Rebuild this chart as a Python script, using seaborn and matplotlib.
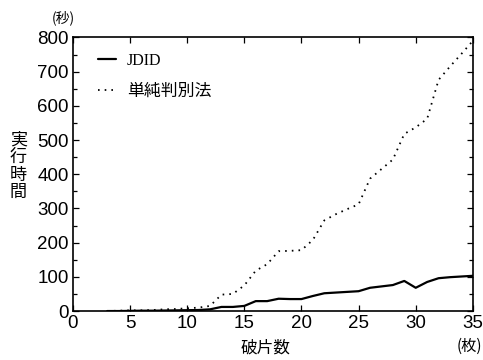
import numpy as np
import pandas as pd
import matplotlib
matplotlib.use("Agg")
import matplotlib.pyplot as plt
from matplotlib.ticker import MultipleLocator
import seaborn as sns

# --- data ---
pieces = list(range(3, 36))
jdid = [0, 0, 0.5, 1, 1, 1.5, 2, 2.5, 3, 5, 12, 12, 15, 29, 29, 36, 35, 35,
        44, 52, 54, 56, 58, 68, 72, 76, 88, 68, 85, 96, 99, 101, 103]
naive = [0, 1, 2, 2, 3, 5, 6, 8, 10, 15, 48, 50, 75, 118, 137, 175, 176, 178,
         208, 265, 283, 298, 312, 387, 415, 443, 518, 537, 562, 676, 715, 752, 790]

df = pd.DataFrame({"pieces": pieces, "JDID": jdid, "naive": naive})

sns.set_style("ticks")
plt.rcParams["font.family"] = ["Liberation Sans", "Noto Sans CJK JP", "DejaVu Sans"]
plt.rcParams["text.color"] = "black"
plt.rcParams["xtick.labelcolor"] = "black"
plt.rcParams["ytick.labelcolor"] = "black"

fig = plt.figure(figsize=(4.83, 3.6), dpi=100)
ax = fig.add_axes([0.151, 0.136, 0.828, 0.760])

sns.lineplot(data=df, x="pieces", y="JDID", ax=ax, color="black",
             linewidth=1.6, label="JDID")
sns.lineplot(data=df, x="pieces", y="naive", ax=ax, color="black",
             linewidth=1.3, linestyle=(0, (0.9, 2.8)), label="単純判別法")

ax.set_xlim(0, 35)
ax.set_ylim(0, 800)
ax.xaxis.set_major_locator(MultipleLocator(5))
ax.yaxis.set_major_locator(MultipleLocator(100))
ax.yaxis.set_minor_locator(MultipleLocator(50))
ax.tick_params(which="both", direction="in", top=True, right=True,
               labelsize=13.5, color="black", width=0.9, pad=3)
ax.tick_params(which="major", length=4)
ax.tick_params(which="minor", length=3)
for s in ax.spines.values():
    s.set_linewidth(1.2)
    s.set_color("black")

ax.set_xlabel("")
ax.set_ylabel("")
cjk = ["Noto Sans CJK JP"]
fig.text(0.549, 0.034, "破片数", fontsize=12, family=cjk, ha="center", va="center")
for i, ch in enumerate("実行時間"):
    fig.text(0.038, 1 - (140 + 17.3 * i) / 360, ch, fontsize=12.3, family=cjk,
             ha="center", va="center")
fig.text(0.132, 0.95, "(秒)", fontsize=10, family=cjk, ha="center", va="center")
fig.text(0.972, 0.037, "(枚)", fontsize=11, family=cjk, ha="center", va="center")

leg = ax.legend(loc="upper left", frameon=False, fontsize=12, handlelength=1.1,
                handletextpad=0.65, borderaxespad=0.0, labelspacing=0.8,
                bbox_to_anchor=(0.045, 0.968))
texts = leg.get_texts()
texts[0].set_family(["Liberation Serif"])
texts[0].set_fontsize(11.5)
texts[1].set_family(cjk)
texts[1].set_fontsize(12.2)

fig.savefig("out.png", dpi=100)
